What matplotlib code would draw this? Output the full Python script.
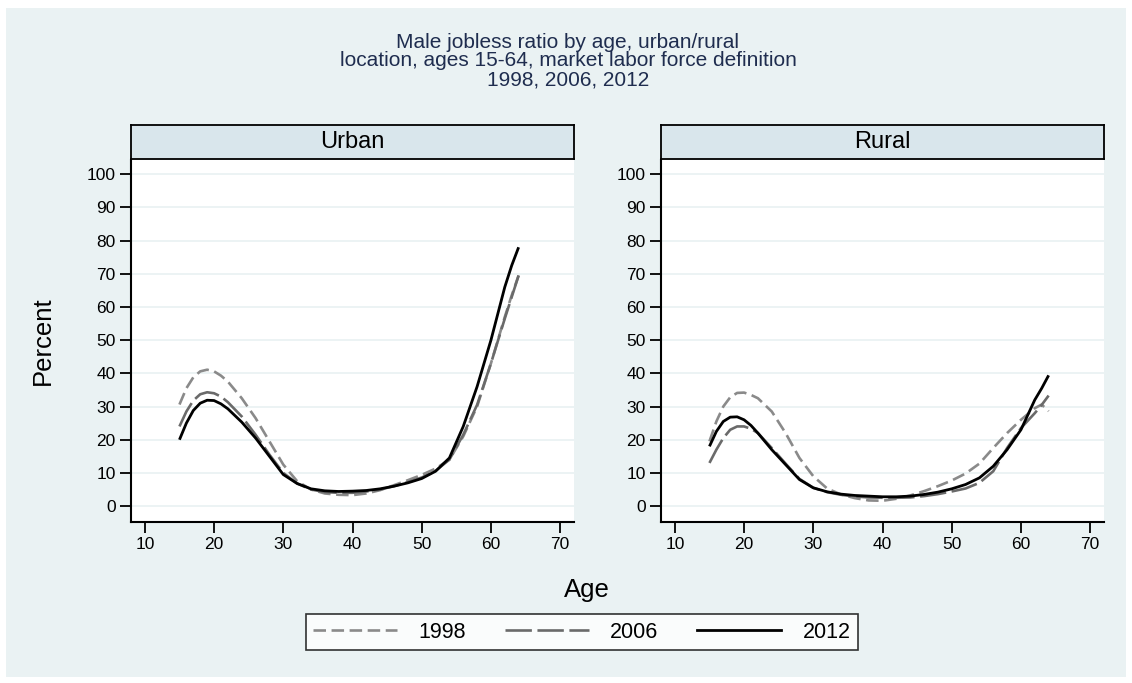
import matplotlib
matplotlib.use('Agg')
import matplotlib.pyplot as plt
from matplotlib.lines import Line2D
from matplotlib.patches import Rectangle

plt.rcParams['font.family'] = ['Liberation Sans', 'DejaVu Sans']
plt.rcParams['lines.scale_dashes'] = False

ages = [15, 16, 17, 18, 19, 20, 21, 22, 24, 26, 28, 30, 32, 34, 36, 38, 40,
        42, 44, 46, 48, 50, 52, 54, 56, 58, 60, 62, 63, 64]

urban_1998 = [30.6, 35.5, 38.8, 40.6, 41.1, 40.6, 39.3, 37.5, 32.5, 26.5, 19.5,
              12.5, 7.5, 5.0, 3.8, 3.4, 3.3, 3.8, 4.8, 6.3, 7.8, 9.4, 11.3,
              14.0, 21.0, 30.0, 43.0, 57.0, 63.5, 69.5]
urban_2006 = [24.0, 28.5, 31.8, 33.7, 34.3, 34.0, 33.0, 31.3, 27.0, 21.5, 15.5,
              10.0, 6.8, 5.0, 4.2, 4.0, 4.0, 4.4, 5.0, 6.0, 7.2, 8.6, 10.6,
              14.0, 21.5, 30.5, 43.0, 56.5, 63.0, 69.5]
urban_2012 = [20.0, 25.0, 28.8, 31.0, 31.9, 31.8, 30.8, 29.3, 25.3, 20.5, 15.0,
              9.5, 6.8, 5.2, 4.6, 4.4, 4.5, 4.7, 5.2, 6.0, 7.0, 8.3, 10.5,
              14.5, 24.0, 36.0, 50.0, 66.0, 72.5, 78.0]

rural_1998 = [19.5, 25.5, 30.0, 32.8, 34.1, 34.2, 33.5, 32.5, 28.5, 22.0, 14.5,
              9.0, 5.3, 3.5, 2.4, 1.7, 1.6, 2.2, 3.2, 4.5, 6.0, 7.7, 9.8,
              12.8, 17.5, 22.0, 26.0, 29.5, 30.6, 28.6]
rural_2006 = [13.0, 17.0, 20.5, 23.0, 24.0, 24.0, 23.3, 22.0, 17.5, 12.8, 8.2,
              5.5, 4.2, 3.4, 2.9, 2.6, 2.5, 2.5, 2.6, 3.0, 3.6, 4.4, 5.3,
              7.0, 10.5, 17.5, 23.5, 28.0, 30.5, 33.3]
rural_2012 = [18.0, 22.5, 25.5, 26.8, 26.9, 26.0, 24.3, 22.0, 17.0, 12.5, 8.0,
              5.5, 4.3, 3.6, 3.2, 3.0, 2.8, 2.8, 3.0, 3.5, 4.2, 5.2, 6.5,
              8.5, 12.0, 17.0, 23.0, 32.0, 35.5, 39.4]

years = ['1998', '2006', '2012']
panels = ['Urban', 'Rural']
x_ticks = [10, 20, 30, 40, 50, 60, 70]
y_ticks = [0, 10, 20, 30, 40, 50, 60, 70, 80, 90, 100]

BG = '#eaf2f3'
STRIP = '#d9e6ec'
TITLE = '#1f2d4f'
styles = {
    '1998': dict(color='#8a8a8a', lw=1.9, dashes=(9, 4)),
    '2006': dict(color='#6a6a6a', lw=1.9, dashes=(19, 4)),
    '2012': dict(color='black', lw=2.0, linestyle='-'),
}

W, H = 1132, 683
fig = plt.figure(figsize=(W / 100, H / 100), dpi=100, facecolor='white')
fig.patches.append(Rectangle((6 / W, 6 / H), 1 - 12 / W, 1 - 14 / H,
                             transform=fig.transFigure, facecolor=BG,
                             edgecolor='none', zorder=-10))


def rect(l, t, r, b):
    return [l / W, 1 - b / H, (r - l) / W, (b - t) / H]


data = {'Urban': [urban_1998, urban_2006, urban_2012],
        'Rural': [rural_1998, rural_2006, rural_2012]}
lefts = {'Urban': (131, 574), 'Rural': (661, 1104)}

for name in panels:
    l, r = lefts[name]
    ax = fig.add_axes(rect(l, 160, r, 522))
    ax.set_facecolor('white')
    for yr, vals in zip(years, data[name]):
        ax.plot(ages, vals, solid_capstyle='butt', **styles[yr])
    ax.set_xlim(8, 72)
    ax.set_ylim(-4.8, 104.3)
    ax.set_xticks(x_ticks)
    ax.set_yticks(y_ticks)
    ax.grid(axis='y', color=BG, lw=1.3)
    ax.set_axisbelow(True)
    for s in ['top', 'right']:
        ax.spines[s].set_visible(False)
    for s in ['left', 'bottom']:
        ax.spines[s].set_linewidth(1.5)
    ax.tick_params(length=8, width=1.3, labelsize=12.5, pad=3)

    sax = fig.add_axes(rect(l, 125, r, 159))
    sax.set_facecolor(STRIP)
    sax.set_xticks([])
    sax.set_yticks([])
    for s in sax.spines.values():
        s.set_linewidth(1.3)
    sax.text(0.5, 0.5, name, ha='center', va='center', fontsize=17,
             transform=sax.transAxes)

fig.text(568 / W, 1 - 61 / H,
         'Male jobless ratio by age, urban/rural\n'
         'location, ages 15-64, market labor force definition\n'
         '1998, 2006, 2012',
         ha='center', va='center', fontsize=15, color=TITLE,
         linespacing=1.0)

fig.text(43 / W, 1 - 341 / H, 'Percent', rotation=90, ha='center',
         va='center', fontsize=18.5)
fig.text(587 / W, 1 - 590 / H, 'Age', ha='center', va='center', fontsize=18.5)

handles = [Line2D([], [], **styles[yr]) for yr in years]
leg = fig.legend(handles, years, loc='center', ncol=3,
                 bbox_to_anchor=(582 / W, 1 - 632 / H), fontsize=15.5,
                 frameon=True, fancybox=False, handlelength=3.9,
                 columnspacing=1.8, handletextpad=1.0, borderpad=0.35)
leg.get_frame().set_edgecolor('black')
leg.get_frame().set_linewidth(1.2)

fig.savefig('out.png', dpi=100, facecolor='white')
